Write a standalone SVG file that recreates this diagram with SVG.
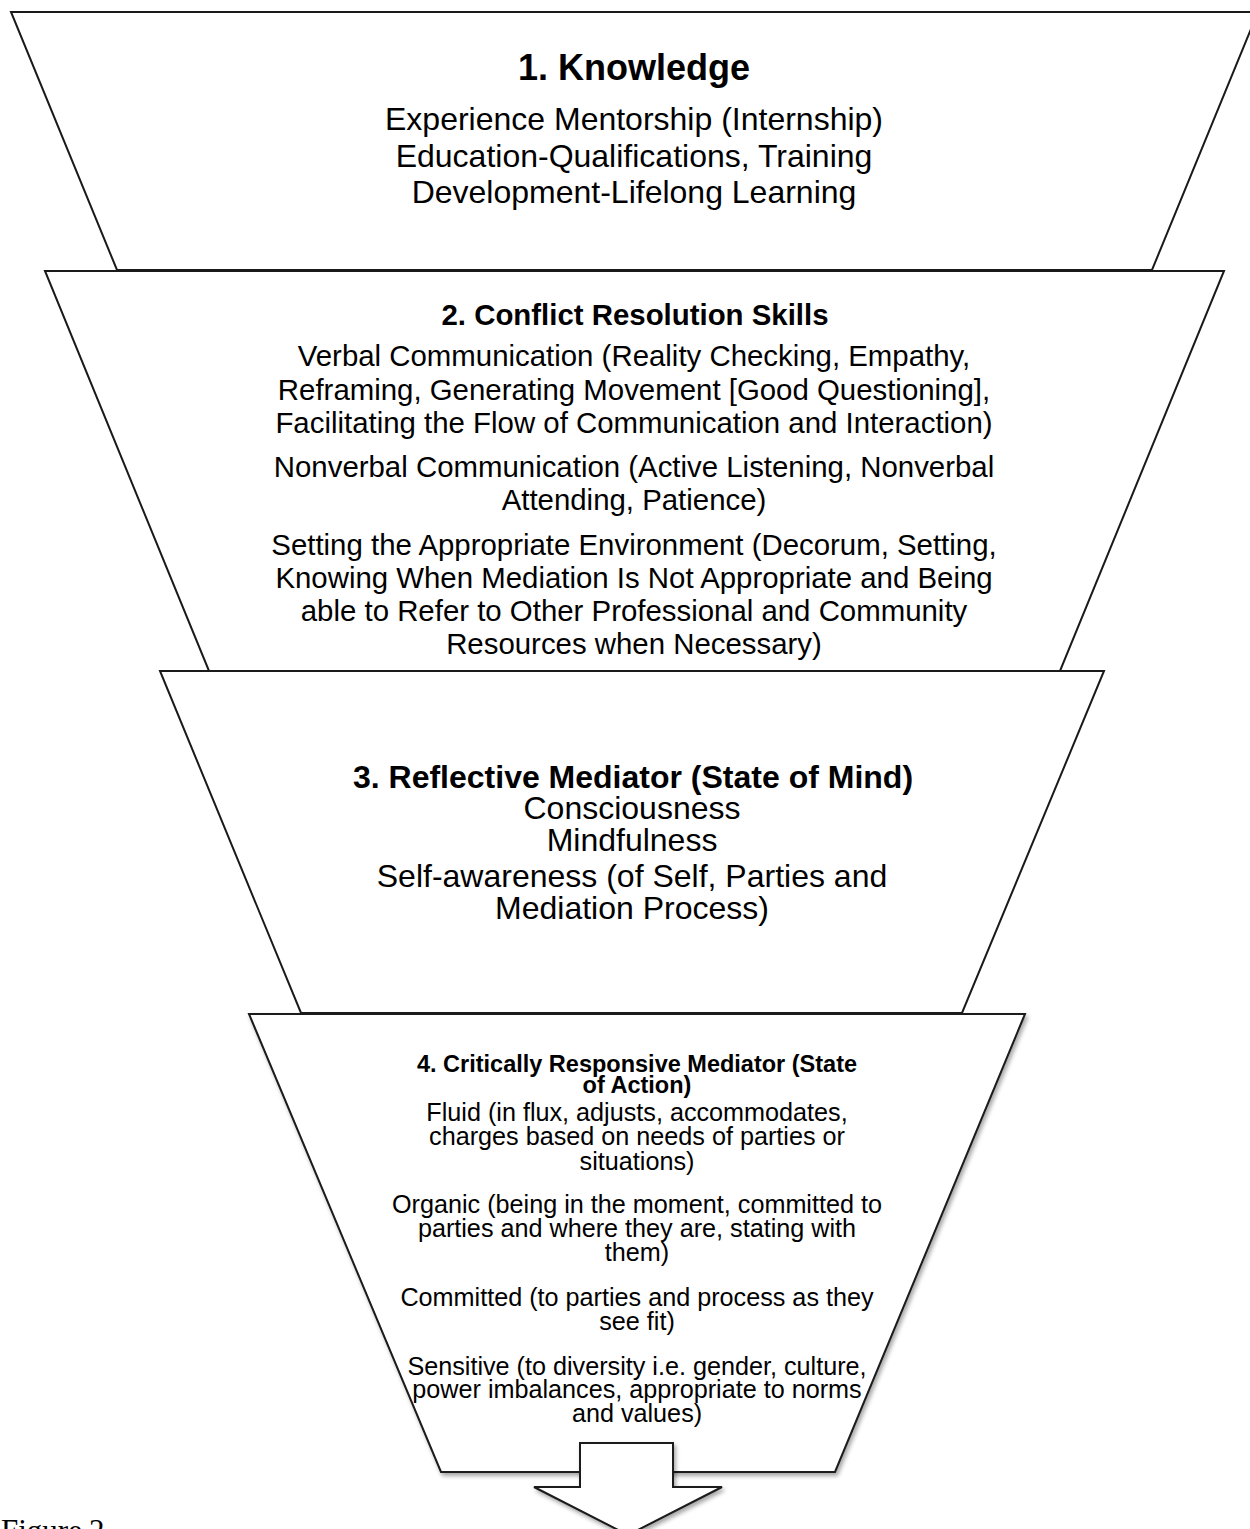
<svg xmlns="http://www.w3.org/2000/svg" width="1250" height="1529" viewBox="0 0 1250 1529">
<style>
.shape{fill:#ffffff;stroke:#1a1a1a;stroke-width:2;stroke-linejoin:miter}
text{font-family:"Liberation Sans",Arial,sans-serif;fill:#000;text-anchor:middle}
.b{font-weight:bold}
.t1{font-size:32px}
.t1h{font-size:36px}
.t2{font-size:29.4px}
.t3{font-size:32px}
.t4{font-size:25.2px}
.t4h{font-size:23.5px}
.fig{font-family:"Liberation Serif","Times New Roman",serif;font-size:31px;text-anchor:start}
</style>
<defs>
<filter id="sh" x="-10%" y="-10%" width="120%" height="120%">
<feDropShadow dx="2" dy="3" stdDeviation="2" flood-color="#000" flood-opacity="0.35"/>
</filter>
</defs>
<rect width="1250" height="1529" fill="#ffffff"/>
<g id="node1">
<polygon class="shape" points="11,12 1258,12 1152,270 117,270"/>
<text class="t1h b" x="634" y="80">1. Knowledge</text>
<text class="t1" x="634" y="130">Experience Mentorship (Internship)</text>
<text class="t1" x="634" y="167">Education-Qualifications, Training</text>
<text class="t1" x="634" y="203">Development-Lifelong Learning</text>
</g>
<g id="node2">
<polygon class="shape" points="45,271 1224,271 1060,671 209,671"/>
<text class="t2 b" x="635" y="325">2. Conflict Resolution Skills</text>
<text class="t2" x="634" y="366">Verbal Communication (Reality Checking, Empathy,</text>
<text class="t2" x="634" y="400">Reframing, Generating Movement [Good Questioning],</text>
<text class="t2" x="634" y="433">Facilitating the Flow of Communication and Interaction)</text>
<text class="t2" x="634" y="477">Nonverbal Communication (Active Listening, Nonverbal</text>
<text class="t2" x="634" y="510">Attending, Patience)</text>
<text class="t2" x="634" y="555">Setting the Appropriate Environment (Decorum, Setting,</text>
<text class="t2" x="634" y="588">Knowing When Mediation Is Not Appropriate and Being</text>
<text class="t2" x="634" y="621">able to Refer to Other Professional and Community</text>
<text class="t2" x="634" y="654">Resources when Necessary)</text>
</g>
<g id="node3">
<polygon class="shape" points="160,671 1104,671 962,1013 301,1013"/>
<text class="t3 b" x="633" y="788">3. Reflective Mediator (State of Mind)</text>
<text class="t3" x="632" y="819">Consciousness</text>
<text class="t3" x="632" y="851">Mindfulness</text>
<text class="t3" x="632" y="887">Self-awareness (of Self, Parties and</text>
<text class="t3" x="632" y="919">Mediation Process)</text>
</g>
<g id="node4">
<polygon class="shape" points="249,1014 1025,1014 835,1472 441,1472" filter="url(#sh)"/>
<text class="t4h b" x="637" y="1072">4. Critically Responsive Mediator (State</text>
<text class="t4h b" x="637" y="1093">of Action)</text>
<text class="t4" x="637" y="1121">Fluid (in flux, adjusts, accommodates,</text>
<text class="t4" x="637" y="1145">charges based on needs of parties or</text>
<text class="t4" x="637" y="1170">situations)</text>
<text class="t4" x="637" y="1213">Organic (being in the moment, committed to</text>
<text class="t4" x="637" y="1237">parties and where they are, stating with</text>
<text class="t4" x="637" y="1261">them)</text>
<text class="t4" x="637" y="1306">Committed (to parties and process as they</text>
<text class="t4" x="637" y="1330">see fit)</text>
<text class="t4" x="637" y="1375">Sensitive (to diversity i.e. gender, culture,</text>
<text class="t4" x="637" y="1398">power imbalances, appropriate to norms</text>
<text class="t4" x="637" y="1422">and values)</text>
</g>
<g id="connectors">
<polygon id="arrow" class="shape" points="580,1443 673,1443 673,1487 722,1487 628,1535 534,1487 580,1487" filter="url(#sh)"/>
</g>
<text class="fig" x="1" y="1541">Figure <tspan x="89">2</tspan></text>
</svg>
